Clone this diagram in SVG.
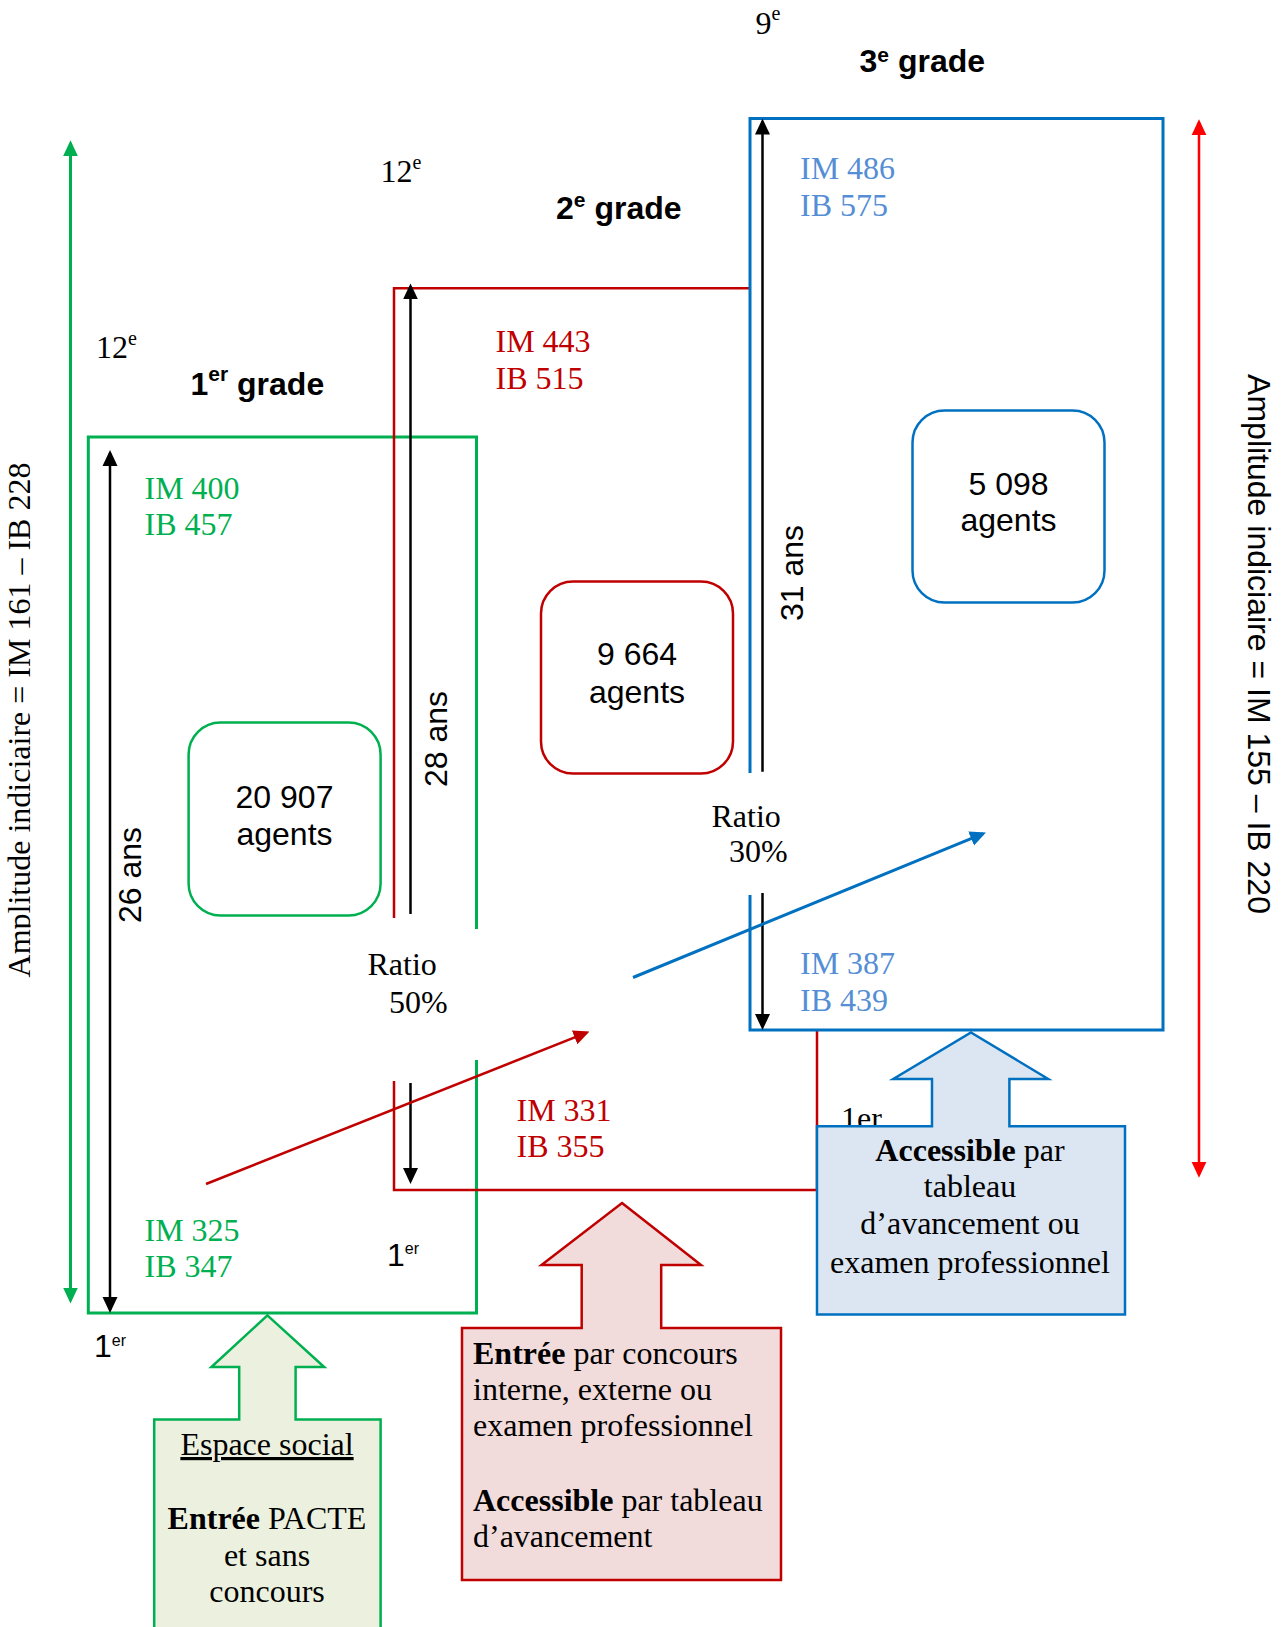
<svg xmlns="http://www.w3.org/2000/svg" width="1285" height="1627" viewBox="0 0 1285 1627">
<style>
.serif{font-family:"Liberation Serif","Times New Roman",serif;font-size:32px;fill:#000}
.sans{font-family:"Liberation Sans",Arial,sans-serif;font-size:32px;fill:#000}
.title{font-family:"Liberation Sans",Arial,sans-serif;font-size:32px;font-weight:bold;fill:#000}
.g{fill:#00B050}.r{fill:#C00000}.b{fill:#558ED5}
.ln{fill:none;stroke-linecap:butt}
.k{stroke:#000;stroke-width:2.5}
.gs{stroke:#00B050;stroke-width:3}
.rs{stroke:#C00000;stroke-width:2.5}
.bs{stroke:#0070C0;stroke-width:3}
.rr{stroke:#FF0000;stroke-width:2.5}
.box{fill:#fff;stroke-width:2.5}
.mid{text-anchor:middle}
</style>
<defs>
<marker id="ak" viewBox="0 0 16 16" refX="13" refY="8" markerWidth="16" markerHeight="16" markerUnits="userSpaceOnUse" orient="auto-start-reverse"><path d="M0,0.5 L16,8 L0,15.5 Z" fill="#000"/></marker>
<marker id="ag" viewBox="0 0 16 16" refX="13" refY="8" markerWidth="16" markerHeight="16" markerUnits="userSpaceOnUse" orient="auto-start-reverse"><path d="M0,0.5 L16,8 L0,15.5 Z" fill="#00B050"/></marker>
<marker id="ar" viewBox="0 0 16 16" refX="13" refY="8" markerWidth="16" markerHeight="16" markerUnits="userSpaceOnUse" orient="auto-start-reverse"><path d="M0,0.5 L16,8 L0,15.5 Z" fill="#FF0000"/></marker>
<marker id="adr" viewBox="0 0 16 16" refX="13" refY="8" markerWidth="16" markerHeight="16" markerUnits="userSpaceOnUse" orient="auto-start-reverse"><path d="M0,0.5 L16,8 L0,15.5 Z" fill="#C00000"/></marker>
<marker id="ab" viewBox="0 0 16 16" refX="13" refY="8" markerWidth="16" markerHeight="16" markerUnits="userSpaceOnUse" orient="auto-start-reverse"><path d="M0,0.5 L16,8 L0,15.5 Z" fill="#0070C0"/></marker>
<clipPath id="clipL"><rect x="0" y="0" width="30.5" height="1627"/></clipPath>
</defs>
<rect width="1285" height="1627" fill="#fff"/>

<!-- Left amplitude label -->
<g id="amplitude-left" clip-path="url(#clipL)">
<text class="serif mid" transform="translate(29.5,720) rotate(-90)">Amplitude indiciaire = IM 161 – IB 228</text>
</g>

<!-- Grade 1 (green) -->
<g id="grade1">
<path class="ln gs" d="M476.5,929 V437 H88.3 V1313 H476.5 V1060"/>
<text class="title" x="190.5" y="394.6">1<tspan dy="-14" font-size="21">er</tspan><tspan dy="14"> grade</tspan></text>
<text class="serif" x="96" y="357.8">12<tspan dy="-13" font-size="20">e</tspan></text>
<text class="serif g" x="144.5" y="498.8">IM 400</text>
<text class="serif g" x="144.5" y="535">IB 457</text>
<text class="serif g" x="144.5" y="1241">IM 325</text>
<text class="serif g" x="144.5" y="1277">IB 347</text>
<text class="sans" x="94" y="1357" font-size="23">1<tspan dy="-11" font-size="16">er</tspan></text>
<text class="sans" x="387" y="1266" font-size="23">1<tspan dy="-12" font-size="16">er</tspan></text>
</g>

<!-- Grade 2 (red frame) -->
<g id="grade2">
<path class="ln rs" d="M394,918 V288.3 H750"/>
<path class="ln rs" d="M394,1081 V1190 H817 V1030"/>
<text class="title" x="556" y="219">2<tspan dy="-12" font-size="21">e</tspan><tspan dy="12"> grade</tspan></text>
<text class="serif" x="380.5" y="182.4">12<tspan dy="-13" font-size="20">e</tspan></text>
<text class="serif r" x="495.5" y="351.8">IM 443</text>
<text class="serif r" x="495.5" y="388.6">IB 515</text>
<text class="serif r" x="516.5" y="1121">IM 331</text>
<text class="serif r" x="516.5" y="1157">IB 355</text>
<text class="serif" x="841" y="1129" font-size="30">1er</text>
</g>

<!-- Grade 3 (blue) -->
<g id="grade3">
<path class="ln bs" d="M750,773 V118.5 H1163 V1030 H750 V895"/>
<text class="title" x="859.5" y="72">3<tspan dy="-10.5" font-size="21">e</tspan><tspan dy="10.5"> grade</tspan></text>
<text class="serif" x="755.5" y="34">9<tspan dy="-14" font-size="20">e</tspan></text>
<text class="serif b" x="800" y="179">IM 486</text>
<text class="serif b" x="800" y="215.7">IB 575</text>
<text class="serif b" x="800" y="974">IM 387</text>
<text class="serif b" x="800" y="1011">IB 439</text>
</g>

<!-- Connectors / arrows -->
<g id="connectors">
<line class="ln gs" x1="70.5" y1="143.3" x2="70.5" y2="1300.5" stroke-width="2.5" marker-start="url(#ag)" marker-end="url(#ag)"/>
<line class="ln k" x1="110" y1="453" x2="110" y2="1310" marker-start="url(#ak)" marker-end="url(#ak)"/>
<line class="ln k" x1="410.5" y1="914" x2="410.5" y2="286.4" marker-end="url(#ak)"/>
<line class="ln k" x1="410.5" y1="1083" x2="410.5" y2="1181" marker-end="url(#ak)"/>
<line class="ln k" x1="762.5" y1="771.7" x2="762.5" y2="121.6" marker-end="url(#ak)"/>
<line class="ln k" x1="762.5" y1="893" x2="762.5" y2="1027" marker-end="url(#ak)"/>
<line class="ln rr" x1="1199" y1="122.3" x2="1199" y2="1174.7" marker-start="url(#ar)" marker-end="url(#ar)"/>
<line class="ln rs" x1="206" y1="1184" x2="586.7" y2="1032.6" marker-end="url(#adr)"/>
<line class="ln bs" x1="633" y1="977.5" x2="983.2" y2="833.6" stroke-width="2.5" marker-end="url(#ab)"/>
</g>

<!-- Duration labels -->
<g id="durations">
<text class="sans mid" transform="translate(141,875) rotate(-90)">26 ans</text>
<text class="sans mid" transform="translate(446.5,739) rotate(-90)">28 ans</text>
<text class="sans mid" transform="translate(803,573) rotate(-90)">31 ans</text>
</g>

<!-- Ratios -->
<g id="ratio50">
<text class="serif" x="367.5" y="975">Ratio</text>
<text class="serif" x="389" y="1013">50%</text>
</g>
<g id="ratio30">
<text class="serif" x="711.5" y="827">Ratio</text>
<text class="serif" x="729" y="862">30%</text>
</g>

<!-- Agent count boxes -->
<g id="agents1">
<rect class="box" x="188.6" y="722.6" width="192" height="193" rx="32" stroke="#00B050"/>
<text class="sans mid" x="284.5" y="808">20 907</text>
<text class="sans mid" x="284.5" y="845">agents</text>
</g>
<g id="agents2">
<rect class="box" x="541" y="581.5" width="192" height="192" rx="32" stroke="#C00000"/>
<text class="sans mid" x="637" y="665">9 664</text>
<text class="sans mid" x="637" y="703">agents</text>
</g>
<g id="agents3">
<rect class="box" x="912.5" y="410.5" width="192" height="192" rx="32" stroke="#0070C0"/>
<text class="sans mid" x="1008.5" y="494.6">5 098</text>
<text class="sans mid" x="1008.5" y="531.4">agents</text>
</g>

<!-- Right amplitude label -->
<g id="amplitude-right">
<text class="sans mid" transform="translate(1248,644) rotate(90)">Amplitude indiciaire = IM 155 – IB 220</text>
</g>

<!-- Callouts -->
<g id="callout-green">
<path d="M267.4,1315.4 L324.2,1367 L295.6,1367 L295.6,1419.4 L380.6,1419.4 L380.6,1640 L154.2,1640 L154.2,1419.4 L239.2,1419.4 L239.2,1367 L211.4,1367 Z" fill="#EBF1DE" stroke="#00B050" stroke-width="2.5"/>
<text class="serif mid" x="267" y="1455" text-decoration="underline">Espace social</text>
<text class="serif mid" x="267" y="1528.5"><tspan font-weight="bold">Entrée</tspan> PACTE</text>
<text class="serif mid" x="267" y="1565.5">et sans</text>
<text class="serif mid" x="267" y="1602">concours</text>
</g>
<g id="callout-red">
<path d="M622,1203 L701,1265 L661.2,1265 L661.2,1328 L781,1328 L781,1580 L462,1580 L462,1328 L581.7,1328 L581.7,1265 L541.5,1265 Z" fill="#F2DCDB" stroke="#C00000" stroke-width="2.5"/>
<text class="serif" x="473" y="1363.5"><tspan font-weight="bold">Entrée</tspan> par concours</text>
<text class="serif" x="473" y="1400">interne, externe ou</text>
<text class="serif" x="473" y="1436">examen professionnel</text>
<text class="serif" x="473" y="1511"><tspan font-weight="bold">Accessible</tspan> par tableau</text>
<text class="serif" x="473" y="1547">d’avancement</text>
</g>
<g id="callout-blue">
<path d="M971,1032.5 L1048.2,1079 L1009.4,1079 L1009.4,1126.3 L1125,1126.3 L1125,1314.6 L817,1314.6 L817,1126.3 L932,1126.3 L932,1079 L893.3,1079 Z" fill="#DCE6F2" stroke="#0070C0" stroke-width="2.5"/>
<text class="serif mid" x="970" y="1161"><tspan font-weight="bold">Accessible</tspan> par</text>
<text class="serif mid" x="970" y="1197">tableau</text>
<text class="serif mid" x="970" y="1234">d’avancement ou</text>
<text class="serif mid" x="970" y="1272.5">examen professionnel</text>
</g>
</svg>
